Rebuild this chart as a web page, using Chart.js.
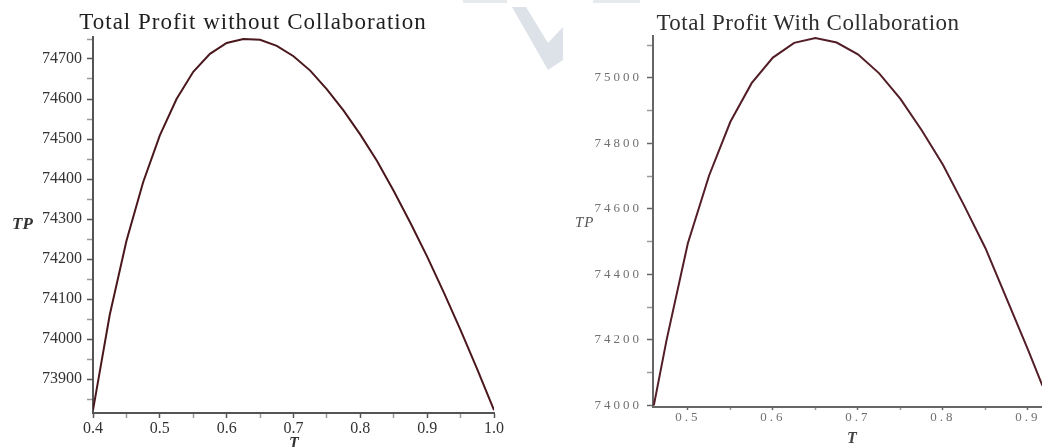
<!DOCTYPE html>
<html>
<head>
<meta charset="utf-8">
<script src="https://cdn.jsdelivr.net/npm/chart.js@4/dist/chart.umd.min.js"></script>
<style>
  body { margin: 0; background: #fff; }
  #wrap { position: relative; width: 1042px; height: 447px; overflow: hidden; background: #fff; }
  #wrap canvas { position: absolute; top: 0; }
  .txt { position: absolute; font-family: 'Liberation Serif', 'Times New Roman', serif; white-space: nowrap; line-height: 1; }
  .mid { transform: translateX(-50%); }
</style>
</head>
<body>
<div id="wrap">
  <svg width="1042" height="447" style="position:absolute;left:0;top:0">
    <polygon points="512,7 526,7 548,43 563,27 563,60 548,70" fill="#dde2e8"/>
    <rect x="463" y="0" width="44" height="3" fill="#e6e9ed"/>
    <rect x="593" y="0" width="47" height="3" fill="#e6e9ed"/>
  </svg>
  <div style="position:absolute;left:0;top:0;width:520px;height:447px"><canvas id="gauche"></canvas></div>
  <div style="position:absolute;left:520px;top:0;width:522px;height:447px"><canvas id="droite"></canvas></div>

  <div class="txt mid" style="left:253px;top:10px;font-size:23px;letter-spacing:1px;color:#1e1e1e">Total Profit without Collaboration</div>
  <div class="txt mid" style="left:808px;top:11px;font-size:23px;letter-spacing:0.5px;color:#2e2e2e">Total Profit With Collaboration</div>
  <div class="txt" style="left:12px;top:215px;font-size:17px;font-style:italic;font-weight:bold;color:#333">TP</div>
  <div class="txt" style="left:575px;top:215px;font-size:15px;font-style:italic;letter-spacing:1px;color:#555">TP</div>
  <div class="txt mid" style="left:294px;top:435px;font-size:16px;font-style:italic;font-weight:bold;color:#333">T</div>
  <div class="txt mid" style="left:852px;top:430px;font-size:16px;font-style:italic;font-weight:bold;color:#444">T</div>
</div>

<script>
// donnees : profit total (TP) en fonction de T
const tSans = [0.4, 0.425, 0.45, 0.475, 0.5, 0.525, 0.55, 0.575, 0.6, 0.625, 0.65, 0.675, 0.7,
               0.725, 0.75, 0.775, 0.8, 0.825, 0.85, 0.875, 0.9, 0.925, 0.95, 0.975, 1.0];
const tpSans = [73822, 74060, 74245, 74392, 74509, 74600, 74668, 74713, 74740, 74750, 74748, 74733, 74707,
                74671, 74624, 74571, 74511, 74445, 74370, 74290, 74206, 74116, 74022, 73924, 73822];

const tAvec = [0.46, 0.475, 0.5, 0.525, 0.55, 0.575, 0.6, 0.625, 0.65, 0.675, 0.7, 0.725,
               0.75, 0.775, 0.8, 0.825, 0.85, 0.875, 0.9, 0.917];
const tpAvec = [74000, 74200, 74495, 74702, 74866, 74984, 75062, 75107, 75122, 75108, 75072, 75014,
                74936, 74840, 74735, 74610, 74480, 74325, 74170, 74060];

// etiquettes des graduations
const xLabelsSans = ['0.4', '0.5', '0.6', '0.7', '0.8', '0.9', '1.0'];
const yLabelsSans = ['73900', '74000', '74100', '74200', '74300', '74400', '74500', '74600', '74700'];
const xLabelsAvec = ['0.5', '0.6', '0.7', '0.8', '0.9'];
const yLabelsAvec = ['74000', '74200', '74400', '74600', '74800', '75000'];

// graduations majeures + mineures (au milieu)
function buildTicks(labels, min, max) {
    const major = labels.map(Number);
    const step = major[1] - major[0];
    let vals = [];
    major.forEach(v => { vals.push(v); vals.push(v - step / 2); vals.push(v + step / 2); });
    vals = vals.map(v => Math.round(v * 1e6) / 1e6);
    vals = [...new Set(vals)].filter(v => v >= min - 1e-9 && v <= max + 1e-9).sort((a, b) => a - b);
    return vals.map(v => ({ value: v }));
}

function labelFor(labels) {
    return function (value) {
        const i = labels.findIndex(l => Math.abs(Number(l) - value) < 1e-6);
        return i >= 0 ? labels[i] : '';
    };
}

function isMajor(labels, value) {
    return labels.some(l => Math.abs(Number(l) - value) < 1e-6);
}

const espacement = {
    id: 'espacement',
    beforeDraw(chart, args, opts) {
        chart.ctx.letterSpacing = (opts.px || 0) + 'px';
    }
};

function makeChart(id, cfg) {
    const ctx = document.getElementById(id).getContext('2d');
    return new Chart(ctx, {
        type: 'line',
        data: {
            datasets: [{
                data: cfg.t.map((t, i) => ({ x: t, y: cfg.tp[i] })),
                borderColor: cfg.lineColor,
                borderWidth: 2,
                pointRadius: 0,
                tension: 0,
                fill: false
            }]
        },
        plugins: [espacement],
        options: {
            responsive: true,
            maintainAspectRatio: false,
            animation: false,
            events: [],
            layout: { padding: cfg.padding },
            plugins: {
                legend: { display: false },
                tooltip: { enabled: false },
                espacement: { px: cfg.spacing }
            },
            scales: {
                x: {
                    type: 'linear',
                    min: cfg.xMin,
                    max: cfg.xMax,
                    afterBuildTicks: s => { s.ticks = buildTicks(cfg.xLabels, cfg.xMin, cfg.xMax); },
                    afterFit: s => { s.height = cfg.xHeight; },
                    border: { display: true, color: cfg.axisColor, width: 2 },
                    grid: {
                        drawOnChartArea: false,
                        drawTicks: true,
                        tickLength: cfg.xTick,
                        tickWidth: 1.5,
                        tickColor: c => isMajor(cfg.xLabels, c.tick.value) ? cfg.axisColor : '#999'
                    },
                    ticks: {
                        autoSkip: false,
                        maxRotation: 0,
                        padding: cfg.xPad,
                        color: cfg.labelColor,
                        font: { family: "'Liberation Serif', serif", size: cfg.fontSize },
                        callback: labelFor(cfg.xLabels)
                    }
                },
                y: {
                    min: cfg.yMin,
                    max: cfg.yMax,
                    afterBuildTicks: s => { s.ticks = buildTicks(cfg.yLabels, cfg.yMin, cfg.yMax); },
                    afterFit: s => { s.width = cfg.yWidth; },
                    border: { display: true, color: cfg.axisColor, width: 2 },
                    grid: {
                        drawOnChartArea: false,
                        drawTicks: true,
                        tickLength: 6,
                        tickWidth: 1.5,
                        tickColor: c => isMajor(cfg.yLabels, c.tick.value) ? cfg.axisColor : '#999'
                    },
                    ticks: {
                        autoSkip: false,
                        padding: 5,
                        color: cfg.labelColor,
                        font: { family: "'Liberation Serif', serif", size: cfg.fontSize },
                        callback: labelFor(cfg.yLabels)
                    }
                }
            }
        }
    });
}

makeChart('gauche', {
    t: tSans, tp: tpSans,
    xLabels: xLabelsSans, yLabels: yLabelsSans,
    xMin: 0.4, xMax: 1.0, yMin: 73815, yMax: 74755,
    padding: { top: 37, right: 26, bottom: 0, left: 0 },
    yWidth: 93, xHeight: 34, xTick: 5, xPad: 1,
    fontSize: 16, spacing: 0,
    lineColor: '#4a171c', axisColor: '#555', labelColor: '#333'
});

makeChart('droite', {
    t: tAvec, tp: tpAvec,
    xLabels: xLabelsAvec, yLabels: yLabelsAvec,
    xMin: 0.459, xMax: 0.9165, yMin: 73995, yMax: 75128,
    padding: { top: 36, right: 0, bottom: 0, left: 0 },
    yWidth: 133, xHeight: 40, xTick: 3, xPad: 0,
    fontSize: 13, spacing: 3,
    lineColor: '#521d26', axisColor: '#666', labelColor: '#707070'
});
</script>
</body>
</html>
